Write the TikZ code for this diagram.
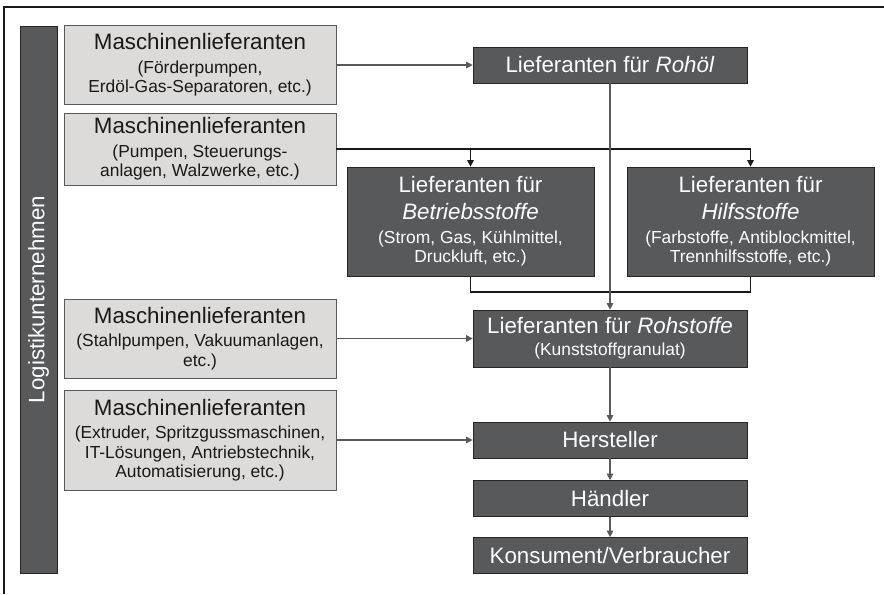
\documentclass[tikz,border=0pt]{standalone}
\usepackage{fontspec}
\setmainfont{Liberation Sans}
\usetikzlibrary{arrows.meta,positioning}
\definecolor{boxdark}{HTML}{58595B}
\definecolor{boxlight}{HTML}{DCDBDA}
\newcommand{\lgfont}{\fontsize{12.7}{15.5}\selectfont}
\newcommand{\smfont}{\fontsize{9.9}{11}\selectfont}

\begin{document}
\begin{tikzpicture}[>={Triangle[length=1.3mm,width=1.3mm]},
  mach/.style={draw=black!65,fill=boxlight,minimum width=5.44cm,align=center,font=\lgfont,inner sep=1pt,text=black!90},
  lief/.style={draw=black!85,fill=boxdark,minimum width=5.48cm,minimum height=0.72cm,align=center,font=\lgfont,inner sep=1pt,text=white},
  conn/.style={draw=black!65,line width=0.6pt}]
\useasboundingbox (0,0) rectangle (17.68,-11.88);
\draw[line width=1.2pt,black!90] (17.68,-0.14) -- (0.08,-0.14) -- (0.08,-11.88);
\node[draw=black!85,fill=boxdark,rotate=90,minimum width=10.94cm,minimum height=0.74cm,font=\lgfont,text=white,inner sep=0pt] (logistik) at (0.77,-5.99) {Logistikunternehmen};
\node[mach,minimum height=1.58cm] (ms_foerder) at (4.0,-1.3) {Maschinenlieferanten\\[-2pt]{\smfont (Förderpumpen,}\\[-4.5pt]{\smfont Erdöl-Gas-Separatoren, etc.)}};
\node[mach,minimum height=1.44cm] (ms_pumpen) at (4.0,-2.98) {Maschinenlieferanten\\[-2pt]{\smfont (Pumpen, Steuerungs-}\\[-4.5pt]{\smfont anlagen, Walzwerke, etc.)}};
\node[mach,minimum height=1.58cm] (ms_stahl) at (4.0,-6.77) {Maschinenlieferanten\\[-2pt]{\smfont (Stahlpumpen, Vakuumanlagen,}\\[-4.5pt]{\smfont etc.)}};
\node[mach,minimum height=2.0cm] (ms_extruder) at (4.0,-8.8) {Maschinenlieferanten\\[-2pt]{\smfont (Extruder, Spritzgussmaschinen,}\\[-4.5pt]{\smfont IT-Lösungen, Antriebstechnik,}\\[-4.5pt]{\smfont Automatisierung, etc.)}};
\node[lief] (lf_rohoel) at (12.2,-1.3) {Lieferanten für \textit{Rohöl}};
\node[lief,minimum width=4.94cm,minimum height=2.18cm] (lf_betrieb) at (9.41,-4.43) {Lieferanten für\\\textit{Betriebsstoffe}\\[-2pt]{\smfont (Strom, Gas, Kühlmittel,}\\[-4.5pt]{\smfont Druckluft, etc.)}};
\node[lief,minimum width=4.94cm,minimum height=2.18cm] (lf_hilfs) at (15.01,-4.43) {Lieferanten für\\\textit{Hilfsstoffe}\\[-2pt]{\smfont (Farbstoffe, Antiblockmittel,}\\[-4.5pt]{\smfont Trennhilfsstoffe, etc.)}};
\node[lief,minimum height=1.14cm] (lf_rohstoff) at (12.2,-6.77) {Lieferanten für \textit{Rohstoffe}\\[-3pt]{\smfont (Kunststoffgranulat)}};
\node[lief] (hersteller) at (12.2,-8.8) {Hersteller};
\node[lief] (haendler) at (12.2,-9.97) {Händler};
\node[lief] (konsument) at (12.2,-11.11) {Konsument/Verbraucher};
\coordinate (sammel) at (12.2,-5.84);
\draw[conn,->] (ms_foerder.east) -- (lf_rohoel.west);
\draw[conn,black!90,->] (ms_pumpen.east) -| (lf_hilfs.north);
\draw[conn,black!90,->] (ms_pumpen.east -| lf_betrieb.north) -- (lf_betrieb.north);
\draw[conn,black!90] (lf_betrieb.south) |- (sammel) -| (lf_hilfs.south);
\draw[conn,->] (lf_rohoel.south) -- (lf_rohstoff.north);
\draw[conn,->] (ms_stahl.east) -- (lf_rohstoff.west);
\draw[conn,->] (ms_extruder.east) -- (hersteller.west);
\draw[conn,->] (lf_rohstoff.south) -- (hersteller.north);
\draw[conn,->] (hersteller) -- (haendler);
\draw[conn,->] (haendler) -- (konsument);
\end{tikzpicture}
\end{document}
